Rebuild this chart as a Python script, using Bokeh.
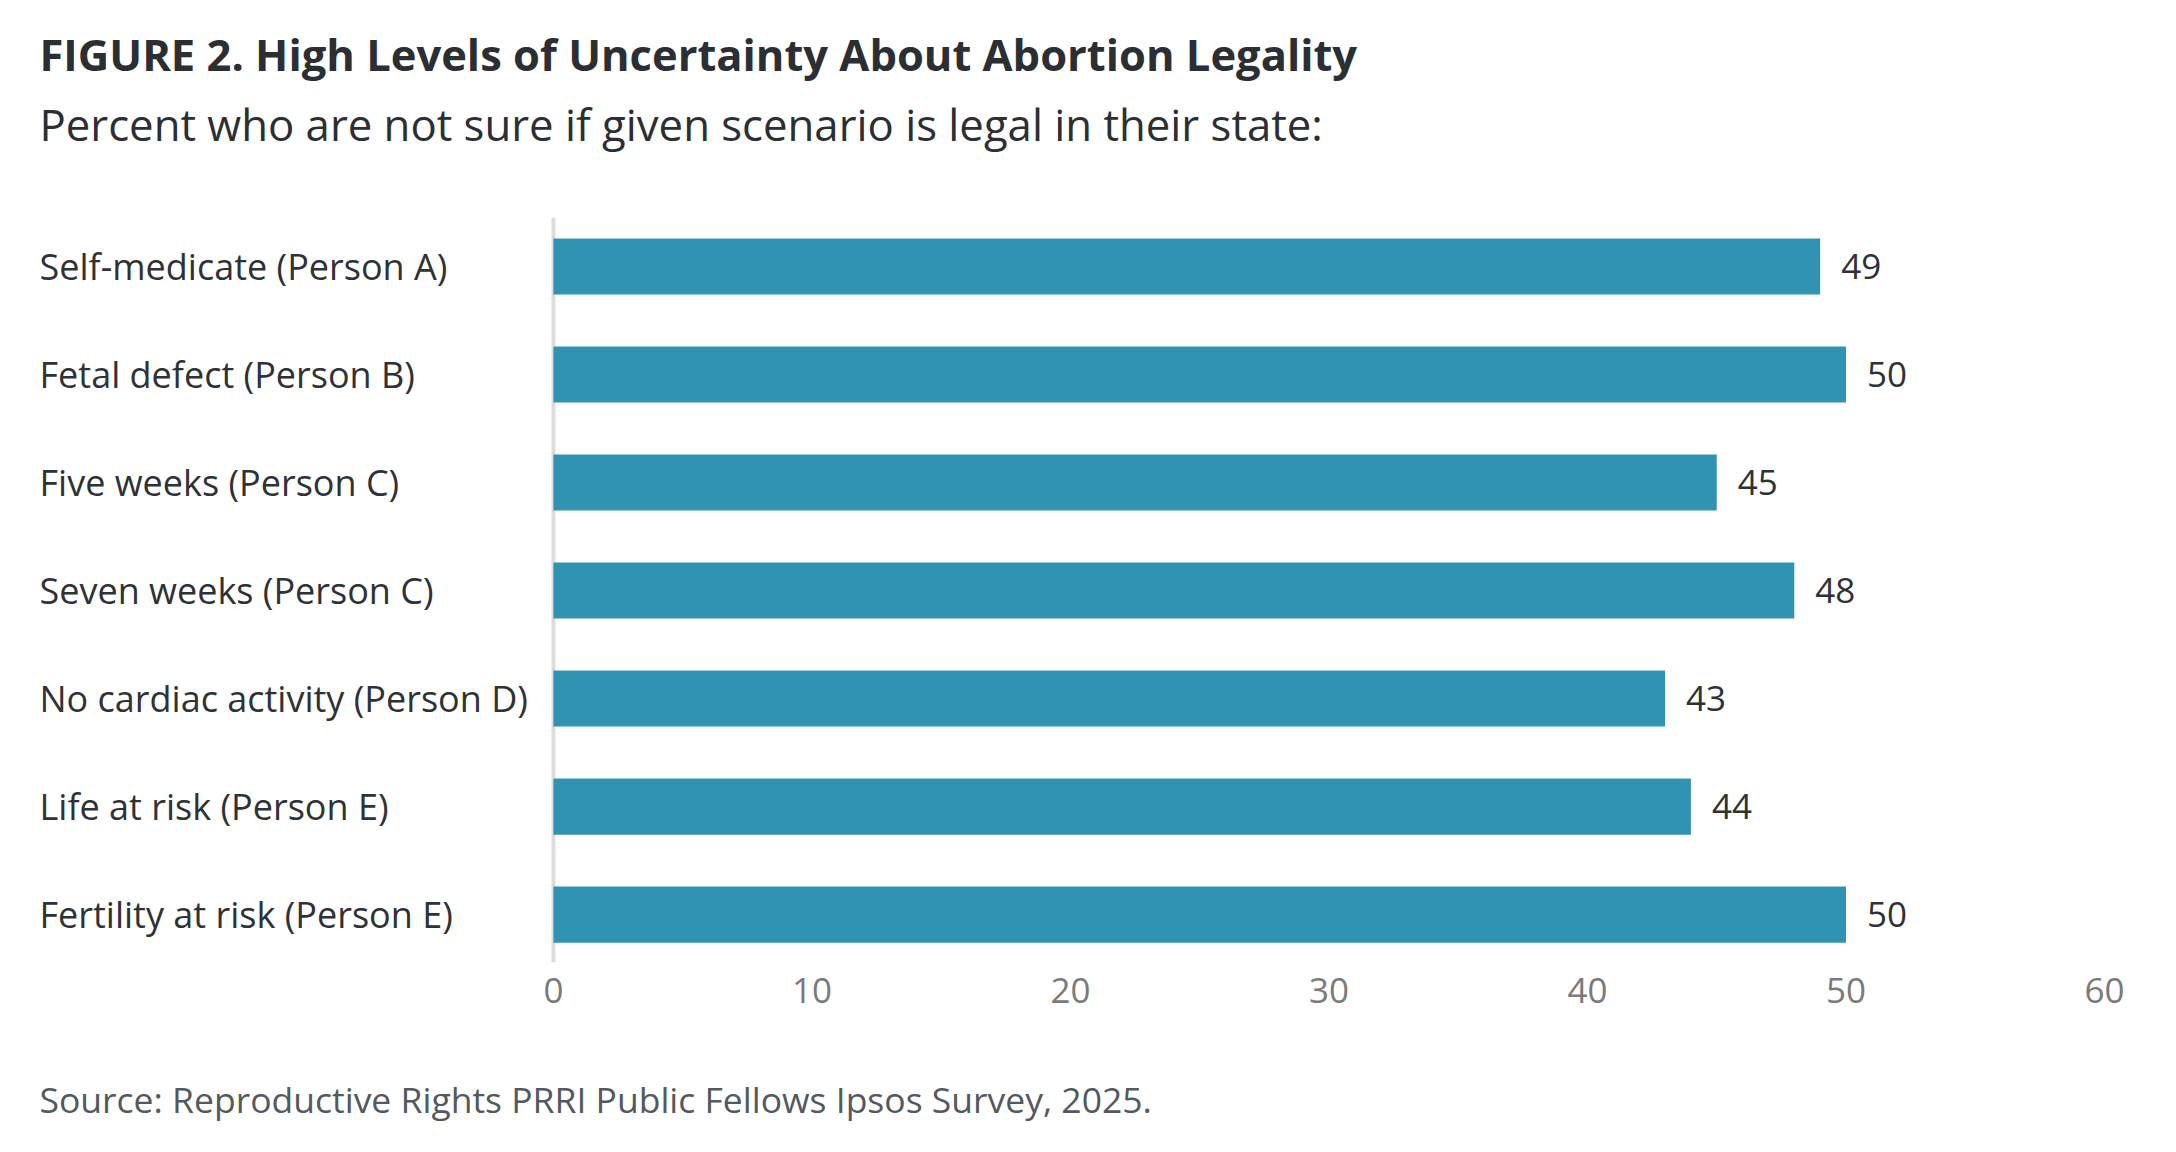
from bokeh.plotting import figure
from bokeh.models import Range1d, FixedTicker, Span, ColumnDataSource
from bokeh.layouts import column
from bokeh.core.properties import value
from bokeh.embed import file_html
from bokeh.resources import INLINE

categories = [
    "Self-medicate (Person A)",
    "Fetal defect (Person B)",
    "Five weeks (Person C)",
    "Seven weeks (Person C)",
    "No cardiac activity (Person D)",
    "Life at risk (Person E)",
    "Fertility at risk (Person E)",
]
values = [49, 50, 45, 48, 43, 44, 50]
x_ticks = [0, 10, 20, 30, 40, 50, 60]

title_text = "FIGURE 2. High Levels of Uncertainty About Abortion Legality"
subtitle_text = "Percent who are not sure if given scenario is legal in their state:"
source_text = "Source: Reproductive Rights PRRI Public Fellows Ipsos Survey, 2025."

FONT = "Open Sans"
BAR_COLOR = "#3193b3"
DARK = "#2e3236"

W = 2160
HEAD_H = 217
CHART_H = 823
FOOT_H = 96
left_b = 39
frame_w = 2065
right_b = W - left_b - frame_w
frame_h = 745
bottom_b = CHART_H - frame_h


def blank_fig(height, y0):
    fig = figure(width=W, height=height, output_backend="svg", toolbar_location=None,
                 title=None,
                 x_range=Range1d(0, frame_w), y_range=Range1d(y0 + height, y0),
                 x_axis_location=None, y_axis_location=None,
                 min_border_left=left_b, min_border_right=right_b,
                 min_border_top=0, min_border_bottom=0)
    fig.grid.visible = False
    fig.outline_line_color = None
    fig.background_fill_color = "white"
    fig.border_fill_color = "white"
    return fig


# ---- header ----
head = blank_fig(HEAD_H, 0)
head.text(x=[0], y=[54], text=[title_text], text_font=value(FONT),
          text_font_size="43.5px", text_font_style="bold", text_color="#2b2f33",
          text_align="left", text_baseline="alphabetic")
head.text(x=[0], y=[123.5], text=[subtitle_text], text_font=value(FONT),
          text_font_size="43.7px", text_color="#2b2f33",
          text_align="left", text_baseline="alphabetic")

# ---- chart ----
x_left = -19.88
pos = list(range(len(categories)))
src = ColumnDataSource(dict(
    y=pos, v=values, cat=categories,
    lab=[str(v) for v in values],
    xl=[x_left] * len(categories),
))

p = figure(width=W, height=CHART_H, output_backend="svg", toolbar_location=None,
           title=None,
           x_range=Range1d(x_left, 60), y_range=Range1d(6.444, -0.454),
           y_axis_location=None, min_border_left=left_b, min_border_right=right_b,
           min_border_top=0, min_border_bottom=bottom_b)
p.outline_line_color = None
p.background_fill_color = "white"
p.border_fill_color = "white"
p.grid.visible = False

p.add_layout(Span(location=0, dimension="height", line_color="#dcdcdc",
                  line_width=4, level="underlay"))

p.hbar(y="y", left=0, right="v", height=0.52, source=src,
       fill_color=BAR_COLOR, line_color=None)

p.text(x="v", y="y", text="lab", source=src, x_offset=21,
       text_font=value(FONT), text_font_size="35px", text_color=DARK,
       text_align="left", text_baseline="middle")

p.text(x="xl", y="y", text="cat", source=src,
       text_font=value(FONT), text_font_size="36px", text_color=DARK,
       text_align="left", text_baseline="middle")

ax = p.xaxis[0]
ax.ticker = FixedTicker(ticks=x_ticks)
ax.axis_line_color = None
ax.major_tick_line_color = None
ax.minor_tick_line_color = None
ax.major_tick_out = 0
ax.major_tick_in = 0
ax.major_label_standoff = 15
ax.major_label_text_font = FONT
ax.major_label_text_font_size = "35px"
ax.major_label_text_color = "#7a7a7a"

# ---- footer ----
foot = blank_fig(FOOT_H, HEAD_H + CHART_H)
foot.text(x=[0], y=[1098.5], text=[source_text], text_font=value(FONT),
          text_font_size="35.5px", text_color="#53595e",
          text_align="left", text_baseline="alphabetic")

layout = column(head, p, foot, spacing=0)
open("out.html", "w").write(file_html(layout, INLINE))
